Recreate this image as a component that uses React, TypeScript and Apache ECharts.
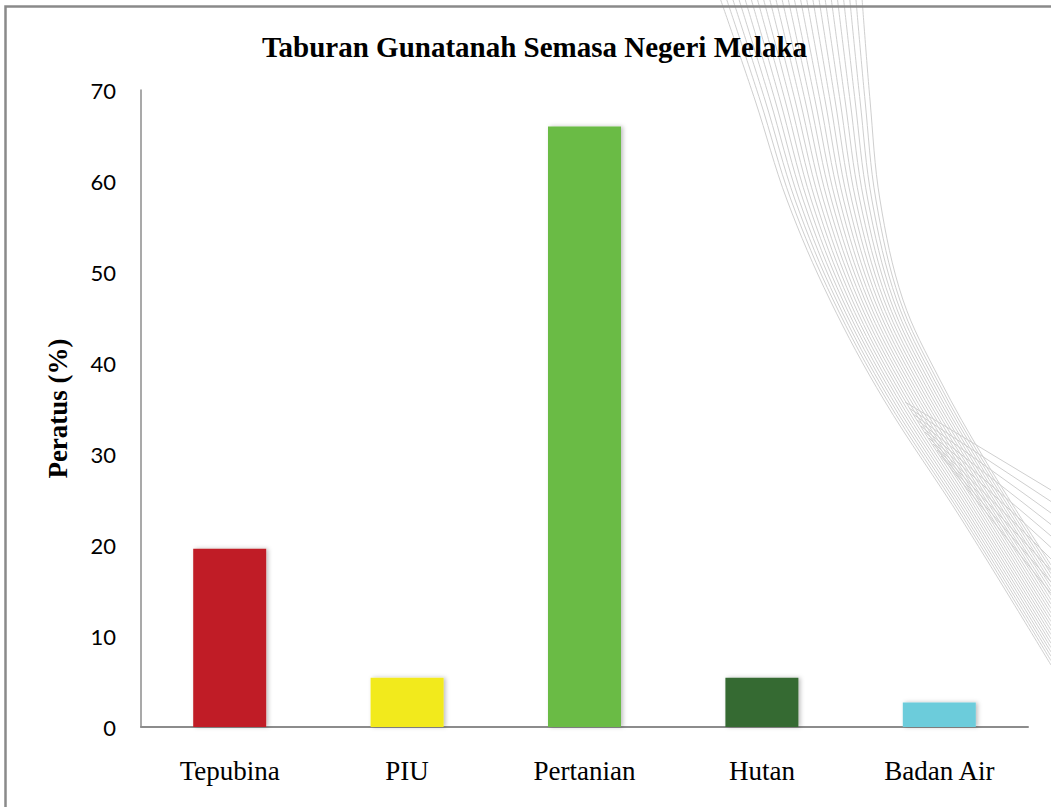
import React, { useEffect, useRef } from "react";
import * as echarts from "echarts";

const categories = ["Tepubina", "PIU", "Pertanian", "Hutan", "Badan Air"];
const values = [19.6, 5.4, 66.0, 5.4, 2.7];
const colors = ["#C01F27", "#F2EA1A", "#6BBB45", "#356A32", "#6CCCDB"];
const yTicks = [0, 10, 20, 30, 40, 50, 60, 70];
const titleText = "Taburan Gunatanah Semasa Negeri Melaka";
const yName = "Peratus (%)";

const SERIF = "'Liberation Serif', 'Times New Roman', serif";

function buildDecor() {
  const els: any[] = [];
  const L = [[720, -2], [755, 100], [787, 200], [830, 300], [884, 400], [962, 520], [1051, 665]];
  const R = [[862, -2], [870, 100], [880, 200], [903, 300], [940, 380], [985, 460], [1051, 565]];
  const N = 24;
  for (let i = 0; i < N; i++) {
    const t = i / (N - 1);
    const pts = L.map((p, j) => [p[0] + (R[j][0] - p[0]) * t, p[1] + (R[j][1] - p[1]) * t]);
    els.push({
      type: "polyline",
      silent: true,
      z: -1,
      shape: { points: pts, smooth: 0.35 },
      style: { stroke: "#cfcfcf", lineWidth: 1, fill: null },
    });
  }
  for (let k = 0; k < 10; k++) {
    els.push({
      type: "line",
      silent: true,
      z: -1,
      shape: { x1: 905 + 4 * k, y1: 402 + 6 * k, x2: 1051, y2: 490 + 11.5 * k },
      style: { stroke: "#cfcfcf", lineWidth: 1 },
    });
  }
  els.push({
    type: "rect",
    silent: true,
    z: 10,
    shape: { x: 5.5, y: 6.5, width: 1200, height: 1000 },
    style: { stroke: "#8a8a8a", lineWidth: 2.5, fill: null },
  });
  els.push({
    type: "text",
    silent: true,
    z: 10,
    x: 534.5,
    y: 47,
    style: {
      text: titleText,
      fontFamily: SERIF,
      fontWeight: "bold",
      fontSize: 29,
      fill: "#000000",
      textAlign: "center",
      textVerticalAlign: "middle",
    },
  });
  return els;
}

export default function App() {
  const ref = useRef<HTMLDivElement>(null);
  useEffect(() => {
    if (!ref.current) return;
    const chart = echarts.init(ref.current, null, { renderer: "svg" });
    chart.setOption({
      animation: false,
      backgroundColor: "#ffffff",
      grid: { left: 141, right: 23, top: 90, bottom: 80, containLabel: false },
      xAxis: {
        type: "category",
        data: categories,
        axisLine: { show: true, lineStyle: { color: "#8c8c8c", width: 2 } },
        axisTick: { show: false },
        axisLabel: {
          fontFamily: SERIF,
          fontSize: 27,
          color: "#000000",
          margin: 30,
        },
      },
      yAxis: {
        type: "value",
        min: yTicks[0],
        max: yTicks[yTicks.length - 1],
        interval: 10,
        name: yName,
        nameLocation: "middle",
        nameRotate: 90,
        nameGap: 70,
        nameTextStyle: {
          fontFamily: SERIF,
          fontWeight: "bold",
          fontSize: 27,
          color: "#000000",
        },
        axisLine: { show: true, lineStyle: { color: "#8c8c8c", width: 1.5 } },
        axisTick: { show: false },
        splitLine: { show: false },
        axisLabel: {
          fontFamily: "Lato",
          fontSize: 22,
          color: "#000000",
          margin: 25,
        },
      },
      series: [
        {
          type: "bar",
          barWidth: 73,
          data: values.map((v, i) => ({
            value: v,
            itemStyle: {
              color: colors[i],
              shadowBlur: 4,
              shadowColor: "rgba(0,0,0,0.25)",
              shadowOffsetX: 2,
              shadowOffsetY: 0,
            },
          })),
        },
      ],
      graphic: buildDecor(),
    });
    return () => chart.dispose();
  }, []);
  return (
    <div
      ref={ref}
      style={{ position: "absolute", left: 0, top: 0, width: 1051, height: 807 }}
    />
  );
}
